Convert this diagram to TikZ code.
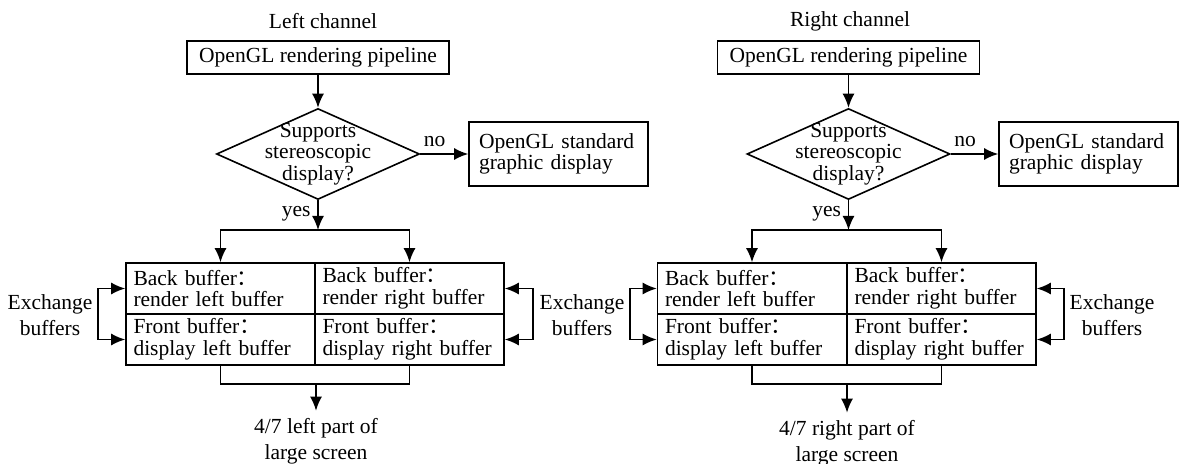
\documentclass[tikz,border=0pt]{standalone}
\usepackage{fontspec}
\setmainfont{Liberation Serif}
\newfontfamily\cjk{Noto Sans CJK SC}
\usetikzlibrary{arrows.meta, shapes.geometric}
\tikzset{
		procbox/.style={draw, minimum width=131pt, minimum height=16.5pt, inner sep=0pt},
		stdbox/.style={draw, align=left, text width=79.5pt, minimum height=32pt, inner xsep=5pt, inner ysep=0pt},
		decision/.style={draw, diamond, minimum width=101.5pt, minimum height=45.5pt, inner sep=0pt},
		bufcell/.style={draw, align=left, text width=87pt, minimum height=25.5pt, inner xsep=3.75pt, inner ysep=0pt},
		loose/.style={align=center, font=\fontsize{10.75}{13}\selectfont}
	}
\newcommand{\fwcolon}{\smash{\cjk ：}}

\begin{document}
\begin{tikzpicture}[x=0.5pt, y=-0.5pt, >={Latex[length=7pt,width=6pt]}, line width=0.8pt,
		font=\fontsize{10.75}{10.75}\selectfont]
					\useasboundingbox (0,0) rectangle (1179,464);

					% left channel
					\node                 (lhead) at (323,21)     {Left channel};
					\node[procbox]        (ltop)  at (318,57.5)   {OpenGL rendering pipeline};
					\node[decision]       (ldec)  at (318,154)    {};
					\node[align=center]   (ldtxt) at (ldec)       {Supports\\stereoscopic\\display?};
					\node[stdbox]         (lstd)  at (558.5,154)  {OpenGL standard\\graphic display};
					\coordinate           (lfork) at (318,230);
					\node[bufcell]        (lb1)   at (220.5,288.5) {Back buffer\fwcolon\\render left buffer};
					\node[bufcell]        (lb2)   at (409.5,288.5) {Back buffer\fwcolon\\render right buffer};
					\node[bufcell]        (lf1)   at (220.5,339.5) {Front buffer\fwcolon\\display left buffer};
					\node[bufcell]        (lf2)   at (409.5,339.5) {Front buffer\fwcolon\\display right buffer};
					\coordinate           (ljoin) at (316,384);
					\node[loose]          (lout)  at (316,441)    {4/7 left part of\\large screen};
					\node[loose]          (lxa)   at (50,315)     {Exchange\\buffers};
					\node[loose]          (mxb)   at (582,315)    {Exchange\\buffers};

					\path[->] (ltop) edge (ldec);
					\path[->] (ldec) edge node[above, pos=0.3] {no} (lstd);
					\draw[->] (ldec) -- node[left, pos=0.45] {yes} (lfork);
					\draw[->] (lfork) -| (lb1);
					\draw[->] (lfork) -| (lb2);
					\draw (lf1) |- (ljoin) -| (lf2);
					\draw[->] (ljoin) -- (lout);
					\draw[<->] (lb1.west) -- ++(-27,0) |- (lf1.west);
					\draw[<->] (lb2.east) -- ++(28,0) |- (lf2.east);

					% right channel
					\node                 (rhead) at (850,21)     {Right channel};
					\node[procbox]        (rtop)  at (848.5,57.5) {OpenGL rendering pipeline};
					\node[decision]       (rdec)  at (848.5,154)  {};
					\node[align=center]   (rdtxt) at (rdec)       {Supports\\stereoscopic\\display?};
					\node[stdbox]         (rstd)  at (1088.5,154) {OpenGL standard\\graphic display};
					\coordinate           (rfork) at (848.5,230);
					\node[bufcell]        (rb1)   at (752,288.5)  {Back buffer\fwcolon\\render left buffer};
					\node[bufcell]        (rb2)   at (941.5,288.5) {Back buffer\fwcolon\\render right buffer};
					\node[bufcell]        (rf1)   at (752,339.5)  {Front buffer\fwcolon\\display left buffer};
					\node[bufcell]        (rf2)   at (941.5,339.5) {Front buffer\fwcolon\\display right buffer};
					\coordinate           (rjoin) at (847,384);
					\node[loose]          (rout)  at (847,443)    {4/7 right part of\\large screen};
					\node[loose]          (rxa)   at (1112,315)   {Exchange\\buffers};

					\path[->] (rtop) edge (rdec);
					\path[->] (rdec) edge node[above, pos=0.3] {no} (rstd);
					\draw[->] (rdec) -- node[left, pos=0.45] {yes} (rfork);
					\draw[->] (rfork) -| (rb1);
					\draw[->] (rfork) -| (rb2);
					\draw (rf1) |- (rjoin) -| (rf2);
					\draw[->] (rjoin) -- (rout);
					\draw[<->] (rb1.west) -- ++(-27,0) |- (rf1.west);
					\draw[<->] (rb2.east) -- ++(27,0) |- (rf2.east);
				\end{tikzpicture}
\end{document}
